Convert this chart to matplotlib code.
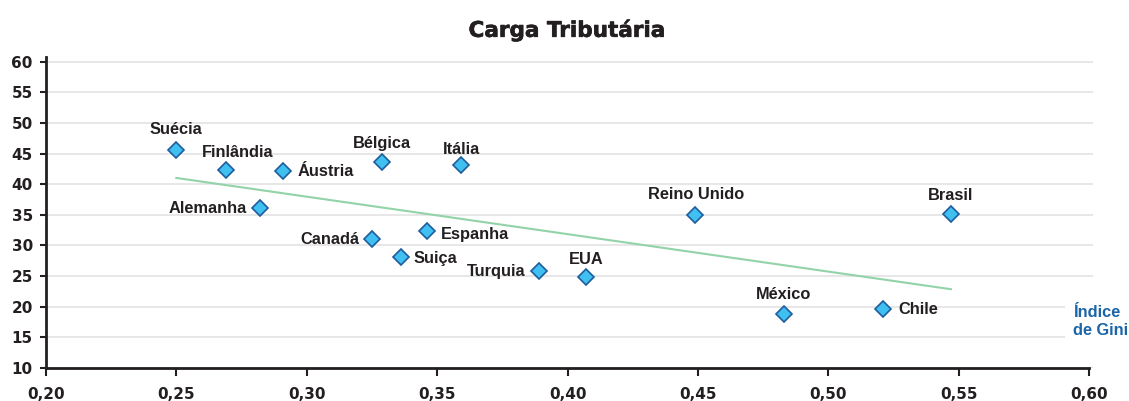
import numpy as np
import matplotlib.pyplot as plt
import matplotlib.patheffects as pe

# dados
paises = ['Suécia', 'Finlândia', 'Áustria', 'Bélgica', 'Itália', 'Alemanha',
          'Canadá', 'Espanha', 'Suiça', 'Turquia', 'EUA', 'Reino Unido',
          'México', 'Chile', 'Brasil']
gini = [0.250, 0.269, 0.291, 0.329, 0.359, 0.282,
        0.325, 0.346, 0.336, 0.389, 0.407, 0.449,
        0.483, 0.521, 0.547]
carga = [45.6, 42.3, 42.1, 43.6, 43.1, 36.1,
         31.0, 32.3, 28.1, 25.8, 24.8, 35.0,
         18.8, 19.6, 35.1]

x_ticks = [0.20, 0.25, 0.30, 0.35, 0.40, 0.45, 0.50, 0.55, 0.60]
y_ticks = [10, 15, 20, 25, 30, 35, 40, 45, 50, 55, 60]

# posicao dos rotulos (offset em pixels, alinhamento)
pos_rotulo = {
    'Suécia': (0, 20, 'center'), 'Finlândia': (12, 18, 'center'),
    'Áustria': (14, 0, 'left'), 'Bélgica': (0, 19, 'center'),
    'Itália': (1, 16, 'center'), 'Alemanha': (-13, 0, 'right'),
    'Canadá': (-13, 0, 'right'), 'Espanha': (14, -3, 'left'),
    'Suiça': (13, -1, 'left'), 'Turquia': (-13, 0, 'right'),
    'EUA': (0, 18, 'center'), 'Reino Unido': (1, 20, 'center'),
    'México': (0, 20, 'center'), 'Chile': (15, 0, 'left'),
    'Brasil': (0, 19, 'center'),
}

escuro = '#231f20'
plt.rcParams['font.family'] = ['Liberation Sans', 'DejaVu Sans']

fig = plt.figure(figsize=(11.29, 4.01), dpi=100)
ax = fig.add_axes([0.0407, 0.0823, 0.9274, 0.776])

# tendencia
a, b = np.polyfit(gini, carga, 1)
xt = np.array([min(gini), max(gini)])
ax.plot(xt, a * xt + b, color='#92d3a8', lw=1.5, zorder=2)

ax.plot(gini, carga, 'D', ms=8, mfc='#3fc0f0', mec='#1f5c9c', mew=1.2,
        zorder=3)

for p, x, y in zip(paises, gini, carga):
    dx, dy, ha = pos_rotulo[p]
    ax.annotate(p, (x, y), xytext=(dx, dy), textcoords='offset pixels',
                ha=ha, va='center', fontsize=11.8, fontweight='bold',
                color=escuro, zorder=4)

ax.set_xlim(0.20, 0.6015)
ax.set_ylim(10, 60.8)
ax.set_xticks(x_ticks)
ax.set_xticklabels([f'{v:.2f}'.replace('.', ',') for v in x_ticks])
ax.set_yticks(y_ticks)
ax.set_yticklabels([str(v) for v in y_ticks])

ax.grid(axis='y', color='#e3e3e3', lw=1.2, zorder=0)
ax.set_axisbelow(True)
for s in ['top', 'right']:
    ax.spines[s].set_visible(False)
for s in ['left', 'bottom']:
    ax.spines[s].set_color(escuro)
    ax.spines[s].set_linewidth(2)
ax.spines['bottom'].set_bounds(0.20, 0.60)
ax.tick_params(axis='both', colors=escuro, width=1.5, labelsize=11)
ax.tick_params(axis='y', length=4.5, pad=5)
ax.tick_params(axis='x', length=5.5, pad=8)
for t in ax.get_xticklabels() + ax.get_yticklabels():
    t.set_fontweight('bold')
    t.set_family('DejaVu Sans')

ax.text(0.981, 0.149, 'Índice\nde Gini', transform=ax.transAxes, ha='left',
        va='center', fontsize=11.8, fontweight='bold', color='#1a66a8',
        linespacing=1.25, clip_on=False, zorder=5,
        bbox=dict(facecolor='white', edgecolor='none', pad=6))

fig.text(0.502, 0.925, 'Carga Tributária', ha='center', va='center',
         fontsize=15.5, fontweight='bold', color=escuro,
         family='DejaVu Sans',
         path_effects=[pe.withStroke(linewidth=0.45, foreground=escuro)])

fig.savefig('out.png', dpi=100)
